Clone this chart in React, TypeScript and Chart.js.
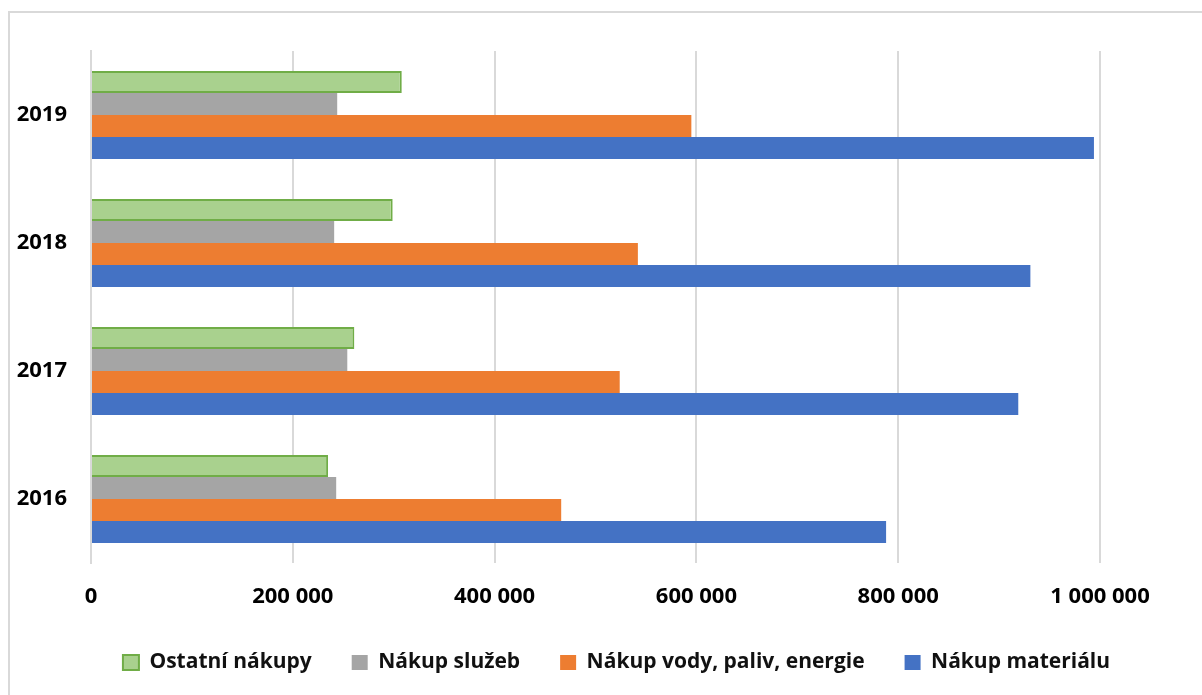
import React, { useEffect, useRef } from "react";
import { Chart, registerables } from "chart.js";

Chart.register(...registerables);

const categories = ["2019", "2018", "2017", "2016"];
const seriesNames = [
  "Ostatní nákupy",
  "Nákup služeb",
  "Nákup vody, paliv, energie",
  "Nákup materiálu",
];
const ostatniNakupy = [308000, 299000, 261000, 235000];
const nakupSluzeb = [244000, 241000, 254000, 243000];
const nakupVody = [595000, 542000, 524000, 466000];
const nakupMaterialu = [994000, 931000, 919000, 788000];
const tickValues = [0, 200000, 400000, 600000, 800000, 1000000];

const fmt = (v: number) =>
  String(Math.round(v)).replace(/\B(?=(\d{3})+(?!\d))/g, " ");

const legendShift = {
  id: "legendShift",
  afterLayout(chart: any) {
    if (chart.legend) {
      chart.legend.left += 21;
    }
  },
};

export default function App() {
  const ref = useRef<HTMLCanvasElement | null>(null);

  useEffect(() => {
    if (!ref.current) return;
    const chart = new Chart(ref.current, {
      type: "bar",
      data: {
        labels: categories,
        datasets: [
          {
            label: seriesNames[0],
            data: ostatniNakupy,
            backgroundColor: "#A9D18E",
            borderColor: "#70AD47",
            borderWidth: 2,
            xAxisID: "x",
            yAxisID: "y",
          },
          {
            label: seriesNames[1],
            data: nakupSluzeb,
            backgroundColor: "#A5A5A5",
            borderWidth: 0,
            xAxisID: "x",
            yAxisID: "y",
          },
          {
            label: seriesNames[2],
            data: nakupVody,
            backgroundColor: "#ED7D31",
            borderWidth: 0,
            xAxisID: "x",
            yAxisID: "y",
          },
          {
            label: seriesNames[3],
            data: nakupMaterialu,
            backgroundColor: "#4472C4",
            borderWidth: 0,
            xAxisID: "x",
            yAxisID: "y",
          },
        ],
      },
      plugins: [legendShift],
      options: {
        indexAxis: "y",
        responsive: false,
        animation: false,
        datasets: {
          bar: { categoryPercentage: 0.6875, barPercentage: 1 },
        },
        layout: { padding: { left: 0, top: 38, right: 0, bottom: 12 } },
        plugins: {
          title: { display: false },
          tooltip: { enabled: false },
          legend: {
            position: "bottom",
            align: "center",
            labels: {
              boxWidth: 16,
              boxHeight: 15,
              padding: 40,
              color: "#111",
              font: { family: "'Open Sans', sans-serif", size: 21, weight: "bold" },
            },
          },
        },
        scales: {
          x: {
            type: "linear",
            position: "bottom",
            min: 0,
            max: 1000000,
            afterBuildTicks: (s: any) => {
              s.ticks = tickValues.map((v) => ({ value: v }));
            },
            afterFit: (s: any) => {
              s.height = 49;
            },
            grid: { color: "#d9d9d9", lineWidth: 2, drawTicks: false },
            border: { display: false },
            ticks: {
              padding: 21,
              color: "#000",
              font: { family: "'Open Sans', sans-serif", size: 22, weight: "bold" },
              callback: (v: any) => fmt(Number(v)),
            },
          },
          y: {
            type: "category",
            position: "left",
            afterFit: (s: any) => {
              s.width = 81;
            },
            grid: { display: false, drawTicks: false },
            border: { display: true, color: "#d9d9d9", width: 2 },
            ticks: {
              padding: 24,
              color: "#000",
              font: { family: "'Open Sans', sans-serif", size: 22, weight: "bold" },
            },
          },
          yR: {
            type: "linear",
            position: "right",
            display: true,
            afterFit: (s: any) => {
              s.width = 102;
            },
            grid: { display: false, drawTicks: false },
            border: { display: false },
            ticks: { display: false },
          },
        },
      },
    });
    return () => chart.destroy();
  }, []);

  return (
    <div
      style={{
        position: "fixed",
        left: 8,
        top: 11,
        width: 1194,
        height: 684,
        boxSizing: "border-box",
        borderLeft: "2px solid #d9d9d9",
        borderTop: "2px solid #d9d9d9",
        background: "#fff",
      }}
    >
      <canvas ref={ref} width={1192} height={682} style={{ display: "block" }} />
    </div>
  );
}
